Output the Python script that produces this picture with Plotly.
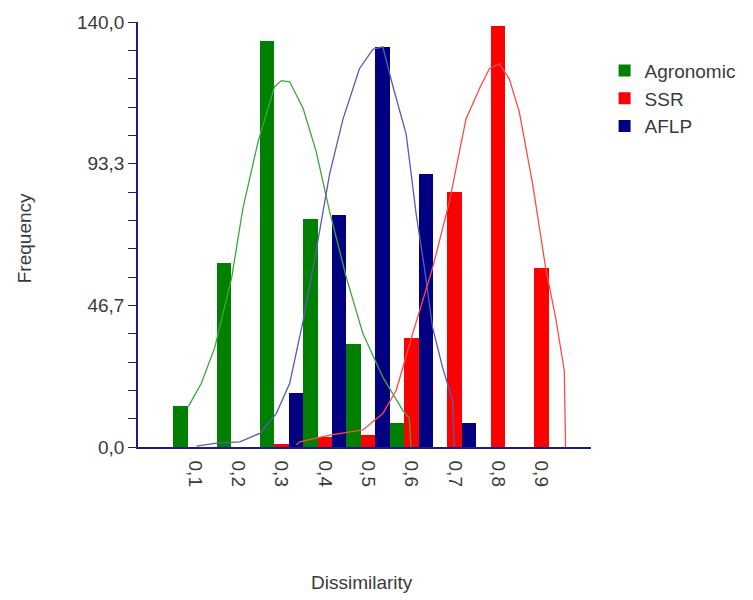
import plotly.graph_objects as go

# ---- data ----
categories = [0.1, 0.2, 0.3, 0.4, 0.5, 0.6, 0.7, 0.8, 0.9]
x_tick_labels = ["0,1", "0,2", "0,3", "0,4", "0,5", "0,6", "0,7", "0,8", "0,9"]
agronomic = [13.4, 60.7, 133.7, 75.0, 34.0, 8.0, 0, 0, 0]
ssr = [0, 0, 1.0, 3.3, 4.0, 36.0, 84.0, 138.7, 59.0]
aflp = [0, 0, 17.7, 76.4, 131.8, 90.0, 8.0, 0, 0]

y_tick_vals = [0, 46.667, 93.333, 140]
y_tick_labels = ["0,0", "46,7", "93,3", "140,0"]

# fitted curves
agro_curve_x = [0.085, 0.115, 0.146, 0.185, 0.211, 0.246, 0.284, 0.300, 0.319, 0.350,
                0.380, 0.411, 0.450, 0.488, 0.534, 0.580, 0.595, 0.599]
agro_curve_y = [13.4, 21.0, 32.8, 55.8, 78.7, 100.6, 118.7, 120.7, 120.3, 111.5,
                97.4, 77.7, 55.7, 37.4, 23.0, 12.1, 9.5, 0]
aflp_curve_x = [0.104, 0.150, 0.204, 0.250, 0.288, 0.319, 0.350, 0.380, 0.411, 0.442,
                0.480, 0.511, 0.534, 0.557, 0.588, 0.611, 0.630, 0.649, 0.672, 0.695, 0.699]
aflp_curve_y = [0.3, 1.3, 1.7, 4.5, 11.0, 21.0, 41.6, 64.6, 89.8, 108.0,
                124.6, 131.0, 131.8, 119.0, 103.0, 76.7, 59.0, 39.3, 26.2, 15.4, 0]
ssr_curve_x = [0.334, 0.342, 0.411, 0.488, 0.534, 0.565, 0.603, 0.641, 0.649, 0.688,
               0.726, 0.757, 0.780, 0.803, 0.826, 0.849, 0.880, 0.910, 0.933, 0.953, 0.956]
ssr_curve_y = [0.7, 1.7, 3.9, 5.6, 11.0, 18.7, 37.4, 55.7, 59.0, 81.0,
               108.0, 118.0, 124.6, 126.2, 121.3, 110.5, 86.6, 59.0, 42.6, 25.2, 0]

FONT = "Liberation Sans, Arial, sans-serif"
TXT = "#3a3a3a"
AXIS = "#1c1c8a"

fig = go.Figure()
fig.add_trace(go.Bar(x=categories, y=agronomic, name="Agronomic", marker_color="#008000",
                     marker_line_width=0))
fig.add_trace(go.Bar(x=categories, y=ssr, name="SSR", marker_color="#ff0000",
                     marker_line_width=0))
fig.add_trace(go.Bar(x=categories, y=aflp, name="AFLP", marker_color="#000080",
                     marker_line_width=0))

fig.add_trace(go.Scatter(x=agro_curve_x, y=agro_curve_y, mode="lines", showlegend=False,
                         line=dict(color="#3fa63f", width=1.3), hoverinfo="skip"))
fig.add_trace(go.Scatter(x=aflp_curve_x, y=aflp_curve_y, mode="lines", showlegend=False,
                         line=dict(color="#5a5ab8", width=1.3), hoverinfo="skip"))
fig.add_trace(go.Scatter(x=ssr_curve_x, y=ssr_curve_y, mode="lines", showlegend=False,
                         line=dict(color="#ff4a4a", width=1.3), hoverinfo="skip"))

fig.update_layout(
    width=753, height=600,
    margin=dict(l=138, r=161, t=20, b=153),
    paper_bgcolor="white", plot_bgcolor="white",
    barmode="group", bargap=0, bargroupgap=0,
    font=dict(family=FONT, size=19, color=TXT),
    legend=dict(x=1.03, xanchor="left", y=0.93, yanchor="top",
                font=dict(family=FONT, size=19, color=TXT),
                itemsizing="constant", tracegroupgap=0, bgcolor="rgba(0,0,0,0)"),
    xaxis=dict(range=[-0.0313, 1.0147], showgrid=False, zeroline=False,
               showline=True, linecolor=AXIS, linewidth=1.5,
               tickmode="array", tickvals=categories, ticktext=x_tick_labels,
               tickangle=90, ticks="", ticklabelstandoff=8,
               tickfont=dict(family=FONT, size=19, color=TXT)),
    yaxis=dict(range=[0, 140], showgrid=False, zeroline=False,
               showline=True, linecolor=AXIS, linewidth=1.5,
               tickmode="array", tickvals=y_tick_vals, ticktext=y_tick_labels,
               ticks="outside", ticklen=8, tickcolor=AXIS, tickwidth=1.2,
               tickfont=dict(family=FONT, size=19, color=TXT),
               minor=dict(ticks="outside", ticklen=8, tickcolor=AXIS, tickwidth=1.2,
                          tick0=0, dtick=140 / 15, showgrid=False)),
    annotations=[
        dict(text="Frequency", xref="paper", yref="paper", x=(25 - 138) / 454, y=(447 - 237) / 427,
             textangle=-90, showarrow=False, xanchor="center", yanchor="middle",
             font=dict(family=FONT, size=19, color=TXT)),
        dict(text="Dissimilarity", xref="paper", yref="paper", x=(362 - 138) / 454, y=-(583 - 447) / 427,
             showarrow=False, xanchor="center", yanchor="middle",
             font=dict(family=FONT, size=19, color=TXT)),
    ],
)

fig.write_html("out.html")
